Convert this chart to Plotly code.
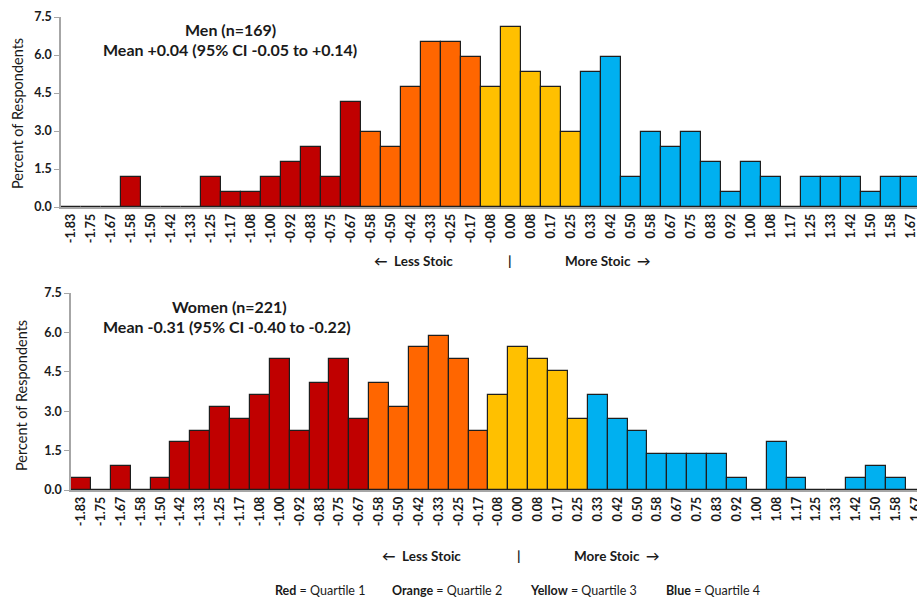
import plotly.graph_objects as go

# ---------------- data ----------------
categories = ["-1.83", "-1.75", "-1.67", "-1.58", "-1.50", "-1.42", "-1.33", "-1.25", "-1.17", "-1.08",
              "-1.00", "-0.92", "-0.83", "-0.75", "-0.67", "-0.58", "-0.50", "-0.42", "-0.33", "-0.25",
              "-0.17", "-0.08", "0.00", "0.08", "0.17", "0.25", "0.33", "0.42", "0.50", "0.58",
              "0.67", "0.75", "0.83", "0.92", "1.00", "1.08", "1.17", "1.25", "1.33", "1.42",
              "1.50", "1.58", "1.67"]

men_pct = [0, 0, 0, 1.18, 0, 0, 0, 1.18, 0.59, 0.59,
           1.18, 1.78, 2.37, 1.18, 4.14, 2.96, 2.37, 4.73, 6.51, 6.51,
           5.92, 4.73, 7.10, 5.33, 4.73, 2.96, 5.33, 5.92, 1.18, 2.96,
           2.37, 2.96, 1.78, 0.59, 1.78, 1.18, 0, 1.18, 1.18, 1.18,
           0.59, 1.18, 1.18]

women_pct = [0.45, 0, 0.90, 0, 0.45, 1.81, 2.26, 3.17, 2.71, 3.62,
             4.98, 2.26, 4.07, 4.98, 2.71, 4.07, 3.17, 5.43, 5.88, 4.98,
             2.26, 3.62, 5.43, 4.98, 4.52, 2.71, 3.62, 2.71, 2.26, 1.36,
             1.36, 1.36, 1.36, 0.45, 0, 1.81, 0.45, 0, 0, 0.45,
             0.90, 0.45, 0]

quartile = [1, 1, 1, 1, 1, 1, 1, 1, 1, 1,
            1, 1, 1, 1, 1, 2, 2, 2, 2, 2,
            2, 3, 3, 3, 3, 3, 4, 4, 4, 4,
            4, 4, 4, 4, 4, 4, 4, 4, 4, 4,
            4, 4, 4]

quartile_colors = {1: "#C00000", 2: "#FF6600", 3: "#FFC000", 4: "#00B0F0"}

y_ticks = [0, 1.5, 3.0, 4.5, 6.0, 7.5]
y_ticktext = ["0.0", "1.5", "3.0", "4.5", "6.0", "7.5"]

# ---------------- figure ----------------
W, H = 917, 598
FONT = "Lato"
TXT = "#1a1a1a"


def px(x):
    return x / W


def py(y):
    return 1 - y / H


bar_colors = [quartile_colors[q] for q in quartile]

fig = go.Figure()
fig.add_trace(go.Bar(x=categories, y=men_pct, marker=dict(color=bar_colors, line=dict(color="#1e1e1e", width=1.2)),
                     xaxis="x", yaxis="y", showlegend=False))
fig.add_trace(go.Bar(x=categories, y=women_pct, marker=dict(color=bar_colors, line=dict(color="#1e1e1e", width=1.2)),
                     xaxis="x2", yaxis="y2", showlegend=False))

xcommon = dict(type="category", tickangle=-90, showline=True, linecolor="#A6A6A6", linewidth=1.5,
               ticks="", showgrid=False, zeroline=False, automargin=False,
               tickfont=dict(family=FONT, size=12.5, color=TXT, weight="bold"))
ycommon = dict(range=[0, 7.5], tickvals=y_ticks, ticktext=y_ticktext, showline=True, linecolor="#A6A6A6",
               linewidth=1.5, ticks="outside", ticklen=5, tickcolor="#A6A6A6", showgrid=False, zeroline=False,
               automargin=False,
               tickfont=dict(family=FONT, size=12.5, color=TXT, weight="bold"))

fig.update_layout(
    width=W, height=H,
    margin=dict(l=0, r=0, t=0, b=0, autoexpand=False),
    paper_bgcolor="white", plot_bgcolor="white",
    bargap=0,
    font=dict(family=FONT, color=TXT),
    xaxis=dict(domain=[px(61), 1], anchor="y", range=[-0.5, 42.3], **xcommon),
    yaxis=dict(domain=[py(207), py(17)], anchor="x", **ycommon),
    xaxis2=dict(domain=[px(71), 1], anchor="y2", range=[-0.5, 42.06], **xcommon),
    yaxis2=dict(domain=[py(490), py(293)], anchor="x2", **ycommon),
)

ann = []


def add_text(text, x, y, size, bold=True, xanchor="center", angle=0):
    ann.append(dict(text=text, x=px(x), y=py(y), xref="paper", yref="paper", showarrow=False,
                    xanchor=xanchor, yanchor="middle", textangle=angle,
                    font=dict(family=FONT, size=size, color=TXT, weight="bold" if bold else "normal")))


# titles
add_text("Men (n=169)", 231, 30, 16)
add_text("Mean +0.04 (95% CI -0.05 to +0.14)", 230, 50, 16)
add_text("Women (n=221)", 229, 306, 16)
add_text("Mean -0.31 (95% CI -0.40 to -0.22)", 227, 326, 16)

# y titles
add_text("Percent of Respondents", 18, 114, 14.5, bold=False, angle=-90)
add_text("Percent of Respondents", 21, 396, 14.5, bold=False, angle=-90)

# direction labels
add_text("\u2190  Less Stoic", 372, 261, 13.5, xanchor="left")
add_text("|", 510, 261, 13.5)
add_text("More Stoic  \u2192", 563, 261, 13.5, xanchor="left")
add_text("\u2190  Less Stoic", 380, 556, 13.5, xanchor="left")
add_text("|", 519, 556, 13.5)
add_text("More Stoic  \u2192", 572, 556, 13.5, xanchor="left")

# quartile legend
legend_items = [("Red", "Quartile 1", 273), ("Orange", "Quartile 2", 390),
                ("Yellow", "Quartile 3", 528), ("Blue", "Quartile 4", 664)]
for name, q, x in legend_items:
    ann.append(dict(text="<b>" + name + "</b> = " + q, x=px(x), y=py(590), xref="paper", yref="paper",
                    showarrow=False, xanchor="left", yanchor="middle",
                    font=dict(family=FONT, size=12.5, color=TXT)))

fig.update_layout(annotations=ann)

fig.write_html("out.html")
